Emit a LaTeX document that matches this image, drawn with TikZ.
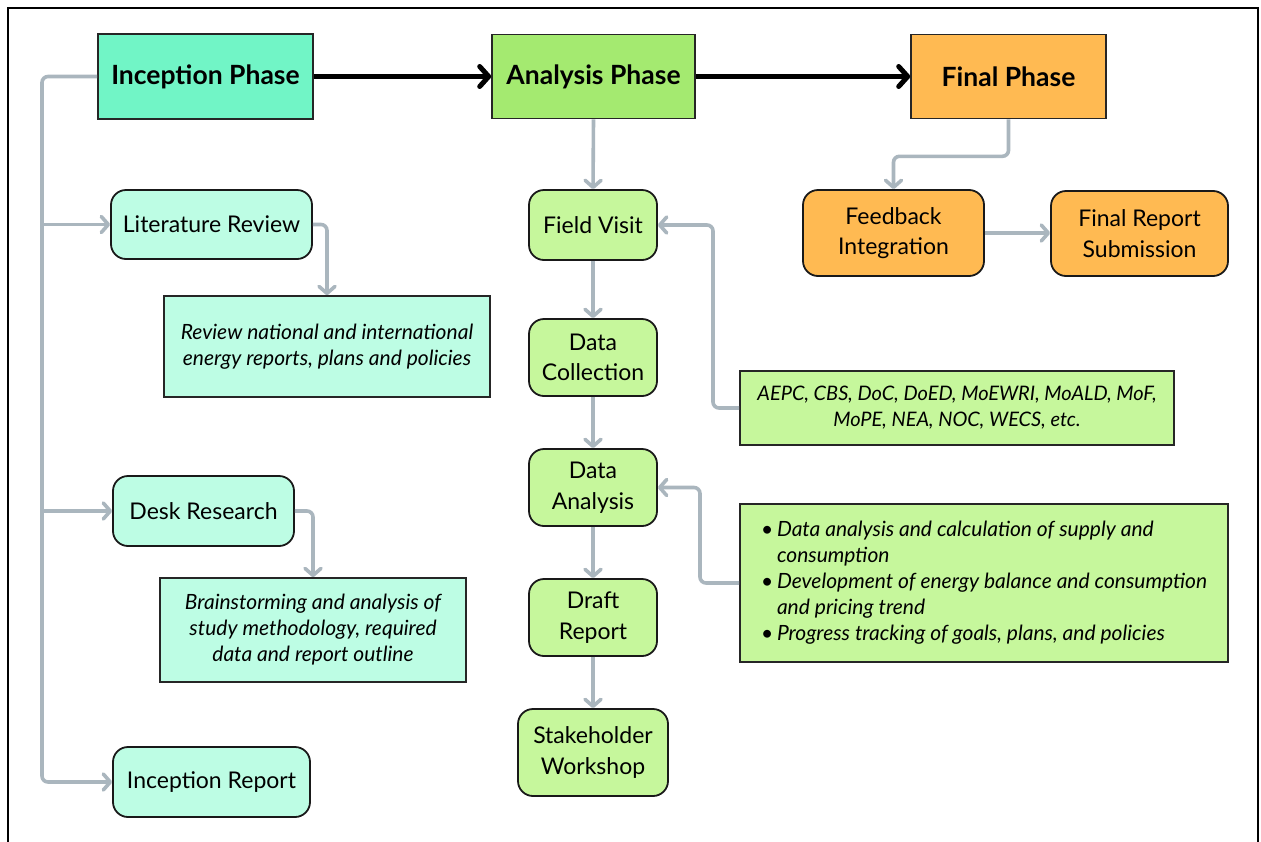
\documentclass[tikz,border=0pt]{standalone}
\usepackage{fontspec}
\setmainfont{Lato}
\usetikzlibrary{arrows.meta,calc}
\definecolor{mintH}{RGB}{113,245,198}
\definecolor{mintL}{RGB}{189,253,228}
\definecolor{greenH}{RGB}{164,234,112}
\definecolor{greenL}{RGB}{198,247,156}
\definecolor{orangeB}{RGB}{255,186,82}
\definecolor{conn}{RGB}{170,182,190}
\tikzset{
  phase/.style={draw=black!85, line width=1.6pt, inner sep=0pt, font=\fontsize{26.5}{30}\selectfont\bfseries, align=center},
  stepbox/.style={draw=black!90, line width=1.8pt, rounded corners=15pt, inner sep=0pt, font=\fontsize{23}{30.5}\selectfont, align=center},
  notebox/.style={draw=black!85, line width=1.6pt, inner sep=0pt, font=\fontsize{21}{26}\selectfont\itshape, align=center},
  gline/.style={draw=conn, line width=3.6pt, rounded corners=6pt, -{Straight Barb[length=7pt,width=16pt,line width=3.6pt,round]}},
  bline/.style={draw=black, line width=5pt, -{Straight Barb[length=9pt,width=20pt,line width=5pt,round]}}
}
\begin{document}
\begin{tikzpicture}[x=1pt,y=-1pt]
\useasboundingbox (0,0) rectangle (1261,841);
\fill[white] (0,0) rectangle (1261,841);
\draw[line width=2.5pt] (8,845) -- (8,8) -- (1258,8) -- (1258,845);

% phases
\node[phase, fill=mintH, minimum width=215pt, minimum height=85pt] (incp) at (205.5,76.5) {Inception Phase};
\node[phase, fill=greenH, minimum width=203pt, minimum height=84pt] (anap) at (593.5,76.5) {Analysis Phase};
\node[phase, fill=orangeB, minimum width=195pt, minimum height=84pt] (finp) at (1008.5,76.5) {Final Phase};

% inception column
\node[stepbox, fill=mintL, minimum width=201pt, minimum height=69pt] (litr) at (211.5,224.5) {Literature Review};
\node[notebox, fill=mintL, minimum width=326pt, minimum height=101pt] (revw) at (327,346.5) {Review national and international\\energy reports, plans and policies};
\node[stepbox, fill=mintL, minimum width=181pt, minimum height=70pt] (desk) at (203.5,511) {Desk Research};
\node[notebox, fill=mintL, minimum width=306pt, minimum height=104pt] (brain) at (313,630) {Brainstorming and analysis of\\study methodology, required\\data and report outline};
\node[stepbox, fill=mintL, minimum width=197pt, minimum height=70pt] (incr) at (211.5,782) {Inception Report};

% analysis column
\node[stepbox, fill=greenL, minimum width=128pt, minimum height=70pt] (field) at (593,225) {Field Visit};
\node[stepbox, fill=greenL, minimum width=128pt, minimum height=77pt] (dcol) at (593,357.5) {Data\\Collection};
\node[stepbox, fill=greenL, minimum width=128pt, minimum height=77pt] (dana) at (593,487.5) {Data\\Analysis};
\node[stepbox, fill=greenL, minimum width=128pt, minimum height=77pt] (draft) at (593,617.5) {Draft\\Report};
\node[stepbox, fill=greenL, minimum width=150pt, minimum height=87pt] (stake) at (593,752.5) {Stakeholder\\Workshop};

\node[notebox, fill=greenL, minimum width=434pt, minimum height=74pt, font=\fontsize{20}{26}\selectfont\itshape] (aepc) at (957,408) {AEPC, CBS, DoC, DoED, MoEWRI, MoALD, MoF,\\MoPE, NEA, NOC, WECS, etc.};
\node[notebox, fill=greenL, minimum width=488pt, minimum height=158pt, align=left] (bul) at (984,583)
{\makebox[16pt][l]{\upshape\textbullet}Data analysis and calculation of supply and\\
\hspace*{16pt}consumption\\
\makebox[16pt][l]{\upshape\textbullet}Development of energy balance and consumption\\
\hspace*{16pt}and pricing trend\\
\makebox[16pt][l]{\upshape\textbullet}Progress tracking of goals, plans, and policies};

% final column
\node[stepbox, fill=orangeB, minimum width=181pt, minimum height=86pt] (feed) at (893.5,233) {Feedback\\Integration};
\node[stepbox, fill=orangeB, minimum width=177pt, minimum height=85pt] (fin) at (1139.5,233.5) {Final Report\\Submission};

% black phase arrows
\draw[bline] (incp.east) -- (anap.west);
\draw[bline] (anap.east) -- (finp.west);

% inception connectors
\coordinate (tr) at (42,76.5);
\draw[gline] (incp.west) -- (tr) |- (incr.west);
\draw[gline] (tr |- litr.west) -- (litr.west);
\draw[gline] (tr |- desk.west) -- (desk.west);
\draw[gline] (litr.east) -| (revw.north);
\draw[gline] (desk.east) -| (brain.north);

% analysis connectors
\draw[gline] (anap.south) -- (field.north);
\draw[gline] (field.south) -- (dcol.north);
\draw[gline] (dcol.south) -- (dana.north);
\draw[gline] (dana.south) -- (draft.north);
\draw[gline] (draft.south) -- (stake.north);
\coordinate (ak) at (713,408);
\draw[gline] (aepc.west) -- (ak) |- (field.east);
\coordinate (bk) at (700,583);
\draw[gline] (bul.west) -- (bk) |- (dana.east);

% final connectors
\draw[gline] (finp.south) -- ++(0,37) -| (feed.north);
\draw[gline] (feed.east) -- (feed.east -| fin.west);
\end{tikzpicture}
\end{document}
